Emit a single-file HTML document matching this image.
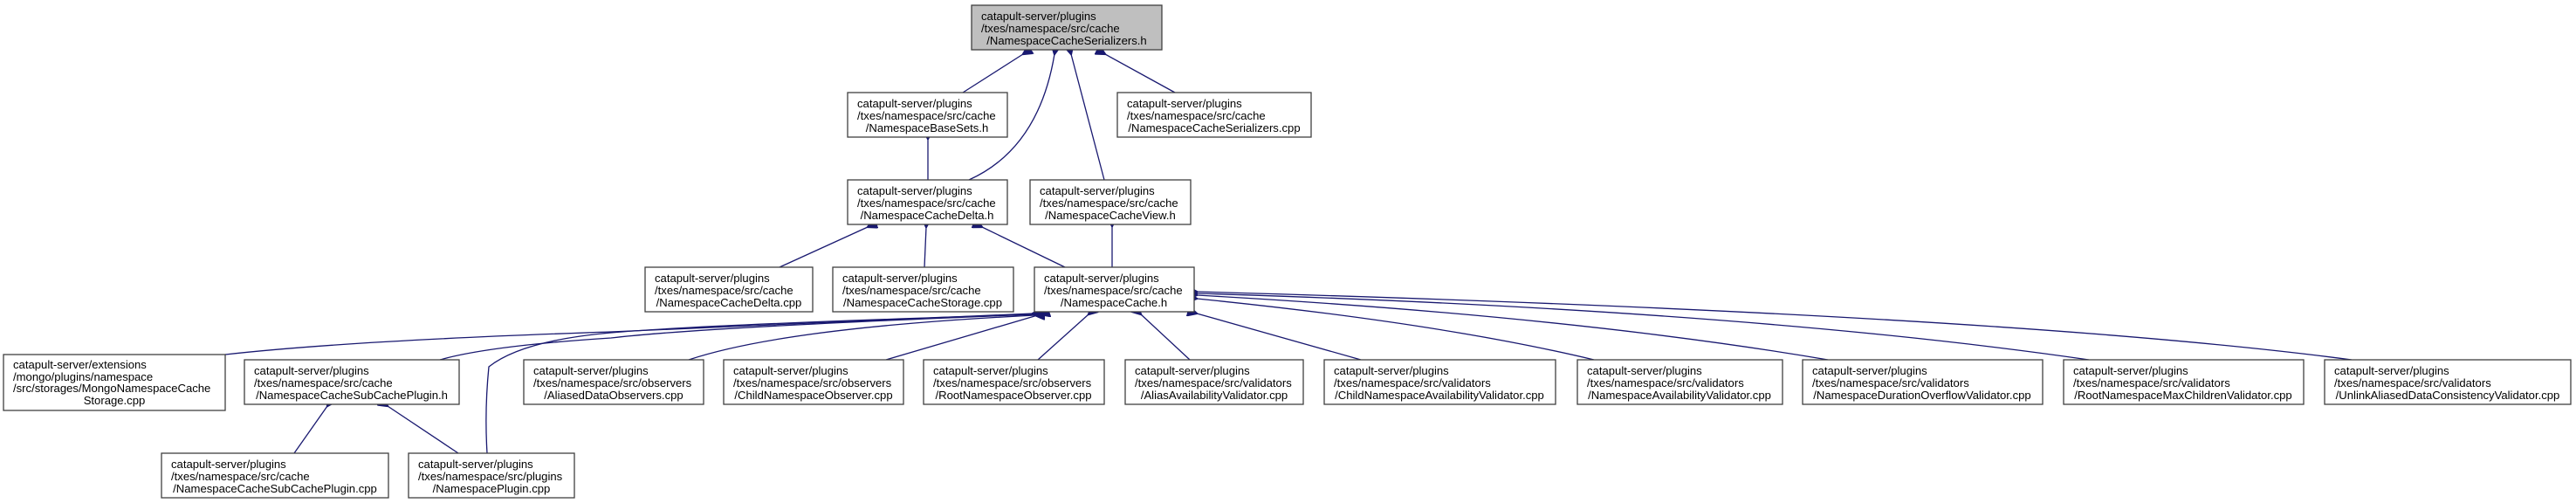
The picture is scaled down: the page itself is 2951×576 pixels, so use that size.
<!DOCTYPE html>
<html><head><meta charset="utf-8"><style>html,body{margin:0;padding:0;background:#fff}svg{display:block}</style></head>
<body>
<svg width="2951" height="576" viewBox="0 0 2951 576" xmlns="http://www.w3.org/2000/svg" font-family="Liberation Sans, Arial, sans-serif" font-size="13.1">
<defs>
<marker id="a" viewBox="0 0 10 10" refX="1" refY="5" markerWidth="12" markerHeight="12" markerUnits="userSpaceOnUse" orient="auto-start-reverse">
<path d="M0,5 L10,0 L10,10 z" fill="#191970" stroke="#191970"/>
</marker>
</defs>
<g fill="none" stroke="#191970" stroke-width="1.3" marker-start="url(#a)">
<path d="M1172,62 L1103,106"/>
<path d="M1208,62 Q1190,170 1110,206"/>
<path d="M1227,62 L1265,206"/>
<path d="M1266,62 L1346,106"/>
<path d="M1063,159 L1063,206"/>
<path d="M1274,259 L1274,306"/>
<path d="M994,260 L893,306"/>
<path d="M1061,260 L1059,306"/>
<path d="M1125,260 L1220,306"/>
<path d="M1183,359 Q900,372 700,380 Q400,390 258,406"/>
<path d="M1184,360 Q800,375 700,387 Q560,396 504,412"/>
<path d="M1185,360 Q800,372 700,381 Q598,390 560,420 Q555,470 558,519"/>
<path d="M1186,361 Q900,375 789,412"/>
<path d="M1192,360 L1015,412"/>
<path d="M1247,360 L1189,412"/>
<path d="M1307,360 L1363,412"/>
<path d="M1371,359 L1559,412"/>
<path d="M1371,342 Q1650,370 1826,412"/>
<path d="M1371,338 Q1800,362 2094,412"/>
<path d="M1371,336 Q2000,355 2393,412"/>
<path d="M1371,334 Q2300,360 2694,412"/>
<path d="M375,465 L337,519"/>
<path d="M444,465 L525,519"/>
</g>
<g stroke="#404040" stroke-width="1.3" fill="#fff">
<rect x="1113" y="6" width="218" height="51" fill="#bfbfbf"/>
<rect x="971" y="106" width="183" height="51"/>
<rect x="1280" y="106" width="222" height="51"/>
<rect x="971" y="206" width="183" height="51"/>
<rect x="1180" y="206" width="184" height="51"/>
<rect x="739" y="306" width="192" height="51"/>
<rect x="954" y="306" width="207" height="51"/>
<rect x="1185" y="306" width="183" height="51"/>
<rect x="4" y="406" width="254" height="64"/>
<rect x="280" y="412" width="246" height="51"/>
<rect x="600" y="412" width="206" height="51"/>
<rect x="829" y="412" width="206" height="51"/>
<rect x="1058" y="412" width="207" height="51"/>
<rect x="1289" y="412" width="204" height="51"/>
<rect x="1517" y="412" width="265" height="51"/>
<rect x="1807" y="412" width="235" height="51"/>
<rect x="2065" y="412" width="275" height="51"/>
<rect x="2364" y="412" width="275" height="51"/>
<rect x="2663" y="412" width="282" height="51"/>
<rect x="185" y="519" width="260" height="51"/>
<rect x="468" y="519" width="190" height="51"/>
</g>
<g fill="#000">
<text x="1124" y="23">catapult-server/plugins</text><text x="1124" y="37">/txes/namespace/src/cache</text><text x="1222" y="51" text-anchor="middle">/NamespaceCacheSerializers.h</text>
<text x="982" y="123">catapult-server/plugins</text><text x="982" y="137">/txes/namespace/src/cache</text><text x="1062" y="151" text-anchor="middle">/NamespaceBaseSets.h</text>
<text x="1291" y="123">catapult-server/plugins</text><text x="1291" y="137">/txes/namespace/src/cache</text><text x="1391" y="151" text-anchor="middle">/NamespaceCacheSerializers.cpp</text>
<text x="982" y="223">catapult-server/plugins</text><text x="982" y="237">/txes/namespace/src/cache</text><text x="1062" y="251" text-anchor="middle">/NamespaceCacheDelta.h</text>
<text x="1191" y="223">catapult-server/plugins</text><text x="1191" y="237">/txes/namespace/src/cache</text><text x="1272" y="251" text-anchor="middle">/NamespaceCacheView.h</text>
<text x="750" y="323">catapult-server/plugins</text><text x="750" y="337">/txes/namespace/src/cache</text><text x="835" y="351" text-anchor="middle">/NamespaceCacheDelta.cpp</text>
<text x="965" y="323">catapult-server/plugins</text><text x="965" y="337">/txes/namespace/src/cache</text><text x="1057" y="351" text-anchor="middle">/NamespaceCacheStorage.cpp</text>
<text x="1196" y="323">catapult-server/plugins</text><text x="1196" y="337">/txes/namespace/src/cache</text><text x="1276" y="351" text-anchor="middle">/NamespaceCache.h</text>
<text x="15" y="422">catapult-server/extensions</text><text x="15" y="436">/mongo/plugins/namespace</text><text x="15" y="449">/src/storages/MongoNamespaceCache</text><text x="131" y="463" text-anchor="middle">Storage.cpp</text>
<text x="291" y="429">catapult-server/plugins</text><text x="291" y="443">/txes/namespace/src/cache</text><text x="403" y="457" text-anchor="middle">/NamespaceCacheSubCachePlugin.h</text>
<text x="611" y="429">catapult-server/plugins</text><text x="611" y="443">/txes/namespace/src/observers</text><text x="703" y="457" text-anchor="middle">/AliasedDataObservers.cpp</text>
<text x="840" y="429">catapult-server/plugins</text><text x="840" y="443">/txes/namespace/src/observers</text><text x="932" y="457" text-anchor="middle">/ChildNamespaceObserver.cpp</text>
<text x="1069" y="429">catapult-server/plugins</text><text x="1069" y="443">/txes/namespace/src/observers</text><text x="1161" y="457" text-anchor="middle">/RootNamespaceObserver.cpp</text>
<text x="1300" y="429">catapult-server/plugins</text><text x="1300" y="443">/txes/namespace/src/validators</text><text x="1391" y="457" text-anchor="middle">/AliasAvailabilityValidator.cpp</text>
<text x="1528" y="429">catapult-server/plugins</text><text x="1528" y="443">/txes/namespace/src/validators</text><text x="1649" y="457" text-anchor="middle">/ChildNamespaceAvailabilityValidator.cpp</text>
<text x="1818" y="429">catapult-server/plugins</text><text x="1818" y="443">/txes/namespace/src/validators</text><text x="1924" y="457" text-anchor="middle">/NamespaceAvailabilityValidator.cpp</text>
<text x="2076" y="429">catapult-server/plugins</text><text x="2076" y="443">/txes/namespace/src/validators</text><text x="2202" y="457" text-anchor="middle">/NamespaceDurationOverflowValidator.cpp</text>
<text x="2375" y="429">catapult-server/plugins</text><text x="2375" y="443">/txes/namespace/src/validators</text><text x="2501" y="457" text-anchor="middle">/RootNamespaceMaxChildrenValidator.cpp</text>
<text x="2674" y="429">catapult-server/plugins</text><text x="2674" y="443">/txes/namespace/src/validators</text><text x="2804" y="457" text-anchor="middle">/UnlinkAliasedDataConsistencyValidator.cpp</text>
<text x="196" y="536">catapult-server/plugins</text><text x="196" y="550">/txes/namespace/src/cache</text><text x="315" y="564" text-anchor="middle">/NamespaceCacheSubCachePlugin.cpp</text>
<text x="479" y="536">catapult-server/plugins</text><text x="479" y="550">/txes/namespace/src/plugins</text><text x="563" y="564" text-anchor="middle">/NamespacePlugin.cpp</text>
</g>
</svg>
</body></html>
